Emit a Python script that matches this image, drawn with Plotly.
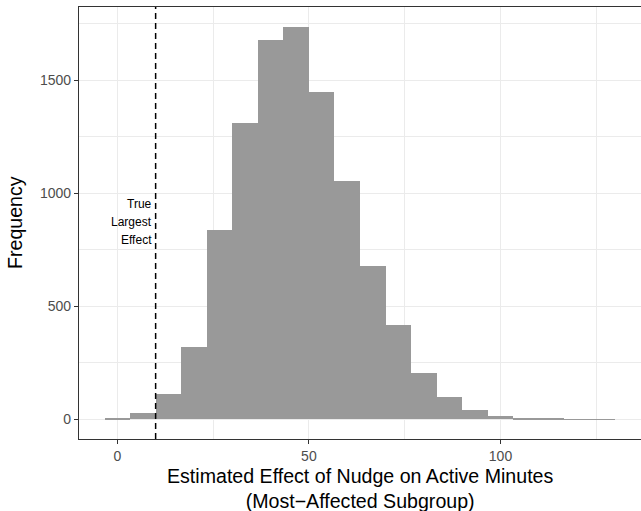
import plotly.graph_objects as go

# Histogram data (bin width 20/3, first bin starts at -10/3)
bin_width = 20 / 3
bin_start = -10 / 3
counts = [3, 28, 110, 322, 838, 1313, 1680, 1737, 1450, 1054, 679, 419, 207, 98, 40, 13, 7, 2, 1, 1]
bin_centers = [bin_start + bin_width * (i + 0.5) for i in range(len(counts))]

true_effect = 10
label_lines = ["True", "Largest", "Effect"]
x_ticks = [0, 50, 100]
y_ticks = [0, 500, 1000, 1500]

font_family = "Liberation Sans, Arial, sans-serif"

fig = go.Figure()
fig.add_trace(go.Bar(
    x=bin_centers, y=counts, width=bin_width,
    marker=dict(color="#999999", line=dict(width=0)),
    showlegend=False,
))

fig.add_shape(type="line", x0=true_effect, x1=true_effect, y0=0, y1=1, yref="paper",
              line=dict(color="black", width=1.5, dash="6px,4px"))

for i, line in enumerate(label_lines):
    fig.add_annotation(x=true_effect, y=873, text=line, showarrow=False,
                       xanchor="right", yanchor="middle", align="right", xshift=-2,
                       yshift=18.3 * (1 - i),
                       font=dict(family=font_family, size=12, color="black"))

# axis titles as annotations for exact placement
fig.add_annotation(x=0.5, xref="paper", y=-0.1146, yref="paper",
                   text="Estimated Effect of Nudge on Active Minutes<br>(Most\u2212Affected Subgroup)",
                   showarrow=False, xanchor="center", yanchor="middle", align="center",
                   font=dict(family=font_family, size=19.6, color="black"))
fig.add_annotation(x=0, xref="paper", y=0.5, yref="paper", text="Frequency", textangle=-90,
                   showarrow=False, xanchor="center", yanchor="middle", xshift=-64,
                   font=dict(family=font_family, size=19.6, color="black"))

axis_common = dict(
    showline=True, linecolor="#333333", linewidth=1.2, mirror=True,
    ticks="outside", ticklen=4, tickcolor="#333333", tickwidth=1,
    tickfont=dict(family=font_family, size=14, color="#4d4d4d"),
    showgrid=True, gridcolor="#ebebeb", gridwidth=1.1, zeroline=False,
    automargin=False,
)

fig.update_xaxes(
    range=[-10, 136.67], tickvals=x_ticks,
    minor=dict(tickvals=[25, 75, 125], showgrid=True, gridcolor="#ebebeb", gridwidth=0.55, ticks=""),
    **axis_common,
)
fig.update_yaxes(
    range=[-87, 1824], tickvals=y_ticks,
    minor=dict(tickvals=[250, 750, 1250, 1750], showgrid=True, gridcolor="#ebebeb", gridwidth=0.55, ticks=""),
    **axis_common,
)

fig.update_layout(
    width=641, height=511,
    margin=dict(l=79, r=0, t=7, b=72, autoexpand=False),
    plot_bgcolor="white", paper_bgcolor="white",
    bargap=0,
)

fig.write_html("out.html", config={"displayModeBar": False},
               post_script="document.body.style.margin='0';document.body.style.overflow='hidden';")
